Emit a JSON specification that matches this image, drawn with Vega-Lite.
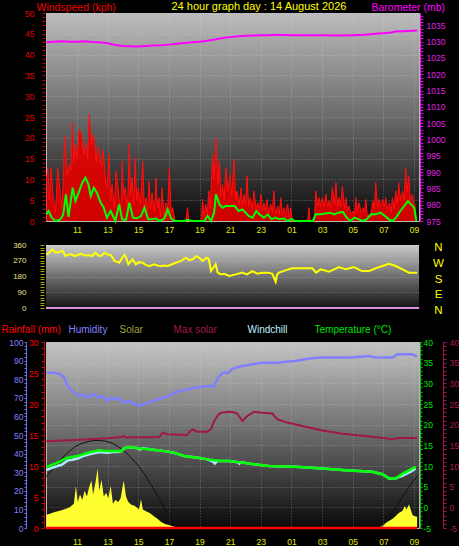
{
"$schema":"https://vega.github.io/schema/vega-lite/v6.json",
"background":"black",
"padding":0,
"bounds":"flush",
"spacing":24,
"config":{"font":"Liberation Sans","axis":{"labelFont":"Liberation Sans","titleFont":"Liberation Sans","titleFontWeight":"normal"},"view":{"stroke":null}},
"datasets":{
"gust":[{"h":9.0,"g":9.6},{"h":9.1,"g":12.8},{"h":9.2,"g":5},{"h":9.3,"g":12.8},{"h":9.45,"g":6},{"h":9.6,"g":2},{"h":9.74,"g":12.8},{"h":9.9,"g":7.2},{"h":10.0,"g":3},{"h":10.1,"g":9},{"h":10.2,"g":20.4},{"h":10.35,"g":11},{"h":10.5,"g":13.6},{"h":10.6,"g":12},{"h":10.7,"g":23.6},{"h":10.8,"g":14},{"h":10.9,"g":18.4},{"h":11.0,"g":15},{"h":11.15,"g":22},{"h":11.3,"g":20.8},{"h":11.45,"g":16},{"h":11.6,"g":18.8},{"h":11.7,"g":15},{"h":11.8,"g":25.6},{"h":11.95,"g":18.4},{"h":12.1,"g":20.8},{"h":12.25,"g":14},{"h":12.35,"g":18},{"h":12.45,"g":16},{"h":12.6,"g":13},{"h":12.7,"g":17.2},{"h":12.85,"g":10.4},{"h":12.95,"g":8},{"h":13.1,"g":16},{"h":13.2,"g":5},{"h":13.3,"g":8.8},{"h":13.45,"g":3},{"h":13.55,"g":12},{"h":13.75,"g":5.6},{"h":13.85,"g":2},{"h":13.95,"g":14.4},{"h":14.05,"g":6},{"h":14.15,"g":8},{"h":14.3,"g":3},{"h":14.42,"g":18.4},{"h":14.5,"g":6},{"h":14.6,"g":10.4},{"h":14.7,"g":4},{"h":14.8,"g":15.2},{"h":14.9,"g":5},{"h":15.0,"g":8},{"h":15.15,"g":4},{"h":15.29,"g":14.4},{"h":15.4,"g":3},{"h":15.5,"g":5.6},{"h":15.6,"g":2},{"h":15.7,"g":9.6},{"h":15.8,"g":3},{"h":15.9,"g":6.8},{"h":16.05,"g":2},{"h":16.16,"g":10.4},{"h":16.25,"g":3},{"h":16.35,"g":5.6},{"h":16.45,"g":1},{"h":16.55,"g":8},{"h":16.7,"g":1},{"h":16.8,"g":4.4},{"h":16.9,"g":1},{"h":17.03,"g":12.8},{"h":17.15,"g":2},{"h":17.25,"g":3.2},{"h":17.4,"g":0},{"h":18.1,"g":0},{"h":18.22,"g":3.2},{"h":18.3,"g":0},{"h":19.1,"g":0},{"h":19.2,"g":5.2},{"h":19.3,"g":1},{"h":19.4,"g":4},{"h":19.5,"g":1.5},{"h":19.6,"g":7.2},{"h":19.7,"g":3},{"h":19.85,"g":16},{"h":19.95,"g":10},{"h":20.07,"g":20},{"h":20.2,"g":9},{"h":20.3,"g":14.4},{"h":20.4,"g":6},{"h":20.5,"g":8.8},{"h":20.6,"g":5},{"h":20.73,"g":12.8},{"h":20.85,"g":7.2},{"h":21.0,"g":11.2},{"h":21.1,"g":6},{"h":21.25,"g":14.8},{"h":21.35,"g":5},{"h":21.45,"g":7.2},{"h":21.6,"g":4},{"h":21.7,"g":8},{"h":21.8,"g":3.5},{"h":21.9,"g":6.4},{"h":22.0,"g":4},{"h":22.1,"g":10.8},{"h":22.2,"g":3.5},{"h":22.3,"g":5.6},{"h":22.45,"g":3},{"h":22.55,"g":7.2},{"h":22.7,"g":3},{"h":22.8,"g":4.4},{"h":22.9,"g":2.5},{"h":23.0,"g":6.4},{"h":23.1,"g":2.5},{"h":23.2,"g":4.4},{"h":23.3,"g":2.5},{"h":23.4,"g":5.2},{"h":23.5,"g":2},{"h":23.65,"g":4},{"h":23.75,"g":2},{"h":23.85,"g":7.2},{"h":23.95,"g":1.5},{"h":24.1,"g":3.6},{"h":24.2,"g":1.5},{"h":24.3,"g":5.6},{"h":24.4,"g":1.5},{"h":24.5,"g":3.2},{"h":24.6,"g":1.5},{"h":24.75,"g":4},{"h":24.85,"g":1},{"h":24.95,"g":3.2},{"h":25.05,"g":0},{"h":26.05,"g":0},{"h":26.14,"g":3.2},{"h":26.22,"g":0},{"h":26.5,"g":0},{"h":26.58,"g":7.2},{"h":26.7,"g":3.5},{"h":26.8,"g":5.6},{"h":26.9,"g":3.5},{"h":27.0,"g":5.6},{"h":27.1,"g":3.5},{"h":27.25,"g":6.4},{"h":27.35,"g":3.5},{"h":27.45,"g":4.8},{"h":27.55,"g":3},{"h":27.67,"g":8},{"h":27.8,"g":4},{"h":27.9,"g":9.2},{"h":28.0,"g":3.5},{"h":28.1,"g":5.6},{"h":28.2,"g":3.5},{"h":28.32,"g":8.4},{"h":28.45,"g":3},{"h":28.55,"g":5.6},{"h":28.65,"g":2.5},{"h":28.75,"g":3.6},{"h":28.9,"g":1.5},{"h":29.0,"g":2.4},{"h":29.1,"g":1.5},{"h":29.2,"g":5.6},{"h":29.3,"g":2.5},{"h":29.41,"g":4.4},{"h":29.55,"g":2},{"h":29.65,"g":3.2},{"h":29.75,"g":2},{"h":29.85,"g":5.2},{"h":29.95,"g":1},{"h":30.05,"g":1.6},{"h":30.15,"g":1},{"h":30.3,"g":4.8},{"h":30.4,"g":3},{"h":30.5,"g":9.2},{"h":30.6,"g":3.5},{"h":30.7,"g":5.2},{"h":30.8,"g":3.5},{"h":30.95,"g":5.2},{"h":31.05,"g":3.5},{"h":31.15,"g":5.6},{"h":31.25,"g":3},{"h":31.4,"g":4.4},{"h":31.5,"g":2},{"h":31.58,"g":5.6},{"h":31.7,"g":3},{"h":31.8,"g":7.2},{"h":31.9,"g":4},{"h":32.0,"g":9.2},{"h":32.1,"g":5},{"h":32.25,"g":7.2},{"h":32.35,"g":5},{"h":32.45,"g":12.8},{"h":32.55,"g":7},{"h":32.65,"g":10.8},{"h":32.75,"g":5},{"h":32.9,"g":6.4},{"h":33.0,"g":3},{"h":33.05,"g":4},{"h":33.15,"g":0}],
"avg":[{"h":9.0,"a":1.6},{"h":9.15,"a":2.4},{"h":9.35,"a":0.8},{"h":9.6,"a":0},{"h":9.9,"a":0.3},{"h":10.1,"a":1.5},{"h":10.28,"a":6.4},{"h":10.45,"a":1.0},{"h":10.72,"a":8.0},{"h":10.9,"a":4.8},{"h":11.15,"a":7.2},{"h":11.35,"a":9.2},{"h":11.55,"a":10.4},{"h":11.75,"a":8.8},{"h":11.9,"a":6.0},{"h":12.1,"a":8.0},{"h":12.3,"a":6.8},{"h":12.55,"a":4.4},{"h":12.75,"a":3.2},{"h":12.95,"a":0.8},{"h":13.2,"a":2.4},{"h":13.5,"a":0},{"h":13.75,"a":4.0},{"h":13.95,"a":0.4},{"h":14.2,"a":0.2},{"h":14.42,"a":4.4},{"h":14.65,"a":0.8},{"h":14.9,"a":0.6},{"h":15.18,"a":1.2},{"h":15.4,"a":3.2},{"h":15.65,"a":0.4},{"h":15.9,"a":0.4},{"h":16.16,"a":0.6},{"h":16.4,"a":0},{"h":16.7,"a":0.6},{"h":16.92,"a":2.8},{"h":17.15,"a":0.6},{"h":17.4,"a":0},{"h":18.0,"a":0},{"h":18.2,"a":0.3},{"h":18.5,"a":0},{"h":19.3,"a":0},{"h":19.53,"a":1.2},{"h":19.75,"a":0},{"h":19.95,"a":2.0},{"h":20.07,"a":6.4},{"h":20.3,"a":4},{"h":20.5,"a":3.2},{"h":20.7,"a":3.6},{"h":21.0,"a":3.6},{"h":21.3,"a":3.6},{"h":21.55,"a":2.4},{"h":21.8,"a":2.8},{"h":22.0,"a":2.0},{"h":22.2,"a":1.2},{"h":22.45,"a":0.8},{"h":22.7,"a":2.4},{"h":22.9,"a":1.6},{"h":23.2,"a":0.8},{"h":23.45,"a":1.6},{"h":23.7,"a":0.4},{"h":23.95,"a":0.8},{"h":24.2,"a":0.4},{"h":24.5,"a":0.6},{"h":24.75,"a":0},{"h":25.0,"a":0.5},{"h":25.2,"a":0},{"h":26.4,"a":0},{"h":26.58,"a":1.6},{"h":26.9,"a":1.6},{"h":27.2,"a":1.8},{"h":27.5,"a":2.0},{"h":27.8,"a":1.6},{"h":28.05,"a":2.0},{"h":28.35,"a":2.2},{"h":28.6,"a":0.8},{"h":28.85,"a":0},{"h":29.1,"a":0.8},{"h":29.4,"a":0.4},{"h":29.65,"a":0},{"h":29.9,"a":0.4},{"h":30.2,"a":1.6},{"h":30.5,"a":1.6},{"h":30.8,"a":2.0},{"h":31.1,"a":1.2},{"h":31.35,"a":0.4},{"h":31.6,"a":0},{"h":31.85,"a":1.0},{"h":32.1,"a":2.4},{"h":32.35,"a":3.6},{"h":32.6,"a":4.8},{"h":32.8,"a":4.0},{"h":33.0,"a":3.2},{"h":33.15,"a":0}],
"baro":[{"h":9.0,"p":1029.8},{"h":9.5,"p":1030.0},{"h":10.0,"p":1030.1},{"h":10.5,"p":1030.0},{"h":11.0,"p":1030.0},{"h":11.5,"p":1030.1},{"h":12.0,"p":1029.9},{"h":12.5,"p":1029.8},{"h":13.0,"p":1029.5},{"h":13.5,"p":1029.0},{"h":14.0,"p":1028.7},{"h":14.5,"p":1028.6},{"h":15.0,"p":1028.5},{"h":15.5,"p":1028.7},{"h":16.0,"p":1028.8},{"h":16.5,"p":1028.9},{"h":17.0,"p":1029.1},{"h":17.5,"p":1029.4},{"h":18.0,"p":1029.6},{"h":18.5,"p":1029.8},{"h":19.0,"p":1030.0},{"h":19.5,"p":1030.3},{"h":20.0,"p":1030.7},{"h":20.5,"p":1031.1},{"h":21.0,"p":1031.4},{"h":21.5,"p":1031.7},{"h":22.0,"p":1031.8},{"h":22.5,"p":1031.9},{"h":23.0,"p":1032.0},{"h":23.5,"p":1032.0},{"h":24.0,"p":1032.1},{"h":25.0,"p":1032.0},{"h":26.0,"p":1032.0},{"h":27.0,"p":1032.0},{"h":28.0,"p":1031.9},{"h":29.0,"p":1032.0},{"h":29.8,"p":1032.1},{"h":30.5,"p":1032.4},{"h":31.0,"p":1032.6},{"h":31.5,"p":1032.8},{"h":31.8,"p":1033.1},{"h":32.3,"p":1033.2},{"h":33.2,"p":1033.4}],
"dir":[{"h":9.0,"d":305},{"h":9.09,"d":310},{"h":9.25,"d":322},{"h":9.41,"d":335},{"h":9.6,"d":316},{"h":9.8,"d":320},{"h":10.07,"d":326},{"h":10.25,"d":297},{"h":10.45,"d":305},{"h":10.6,"d":307},{"h":10.85,"d":297},{"h":11.05,"d":303},{"h":11.26,"d":310},{"h":11.5,"d":300},{"h":11.75,"d":303},{"h":12.0,"d":297},{"h":12.2,"d":316},{"h":12.4,"d":300},{"h":12.57,"d":297},{"h":12.8,"d":316},{"h":13.0,"d":305},{"h":13.22,"d":303},{"h":13.45,"d":269},{"h":13.6,"d":265},{"h":13.76,"d":259},{"h":13.95,"d":287},{"h":14.1,"d":303},{"h":14.2,"d":290},{"h":14.35,"d":250},{"h":14.5,"d":265},{"h":14.63,"d":278},{"h":14.85,"d":250},{"h":15.05,"d":262},{"h":15.29,"d":259},{"h":15.5,"d":245},{"h":15.75,"d":240},{"h":16.05,"d":250},{"h":16.3,"d":242},{"h":16.5,"d":240},{"h":16.7,"d":243},{"h":16.92,"d":240},{"h":17.2,"d":250},{"h":17.5,"d":260},{"h":17.79,"d":269},{"h":18.1,"d":287},{"h":18.3,"d":275},{"h":18.55,"d":278},{"h":18.8,"d":297},{"h":19.0,"d":285},{"h":19.2,"d":269},{"h":19.45,"d":287},{"h":19.6,"d":280},{"h":19.75,"d":211},{"h":19.9,"d":230},{"h":20.05,"d":250},{"h":20.18,"d":202},{"h":20.4,"d":192},{"h":20.6,"d":195},{"h":20.94,"d":183},{"h":21.36,"d":192},{"h":21.79,"d":202},{"h":22.1,"d":192},{"h":22.44,"d":211},{"h":22.77,"d":196},{"h":23.1,"d":202},{"h":23.5,"d":202},{"h":23.75,"d":195},{"h":23.86,"d":173},{"h":23.97,"d":150},{"h":24.05,"d":190},{"h":24.18,"d":202},{"h":24.6,"d":215},{"h":25.05,"d":227},{"h":25.7,"d":227},{"h":26.36,"d":227},{"h":26.6,"d":202},{"h":26.9,"d":221},{"h":27.45,"d":208},{"h":28.1,"d":234},{"h":28.54,"d":221},{"h":29.08,"d":234},{"h":29.6,"d":211},{"h":30.06,"d":211},{"h":30.5,"d":227},{"h":30.93,"d":240},{"h":31.36,"d":253},{"h":31.8,"d":240},{"h":32.24,"d":221},{"h":32.67,"d":202},{"h":33.0,"d":202},{"h":33.2,"d":202}],
"hum":[{"h":9.0,"v":83.5},{"h":9.5,"v":83.5},{"h":9.95,"v":82.6},{"h":10.17,"v":80.8},{"h":10.35,"v":77},{"h":10.5,"v":75.4},{"h":10.7,"v":73.7},{"h":10.9,"v":72.5},{"h":11.15,"v":71},{"h":11.4,"v":71.9},{"h":11.6,"v":70},{"h":11.8,"v":71},{"h":12.13,"v":71.9},{"h":12.35,"v":70},{"h":12.55,"v":71},{"h":12.78,"v":70},{"h":13.0,"v":68.3},{"h":13.2,"v":70},{"h":13.43,"v":69.2},{"h":13.7,"v":70},{"h":13.9,"v":68.3},{"h":14.2,"v":67.4},{"h":14.45,"v":68.3},{"h":14.65,"v":67},{"h":14.85,"v":66.5},{"h":15.07,"v":65.6},{"h":15.3,"v":66.5},{"h":15.5,"v":67},{"h":15.72,"v":67.4},{"h":16.0,"v":68.5},{"h":16.3,"v":69.2},{"h":16.59,"v":70},{"h":17.0,"v":71},{"h":17.35,"v":72.7},{"h":17.9,"v":74},{"h":18.3,"v":74.6},{"h":18.66,"v":75.4},{"h":19.2,"v":76},{"h":19.6,"v":76.3},{"h":19.96,"v":76.3},{"h":20.1,"v":79},{"h":20.2,"v":80.8},{"h":20.4,"v":82.5},{"h":20.51,"v":83.5},{"h":20.92,"v":83.5},{"h":21.1,"v":85.5},{"h":21.36,"v":86.2},{"h":21.79,"v":87.1},{"h":22.1,"v":87.5},{"h":22.44,"v":88},{"h":22.8,"v":88.5},{"h":23.1,"v":88.9},{"h":24.18,"v":88.9},{"h":24.6,"v":89.4},{"h":25.27,"v":89.8},{"h":25.9,"v":90.7},{"h":26.3,"v":91.2},{"h":27.01,"v":91.6},{"h":28.54,"v":91.6},{"h":29.3,"v":92},{"h":30.06,"v":92.5},{"h":30.4,"v":91.8},{"h":31.0,"v":91.6},{"h":31.58,"v":91.6},{"h":31.9,"v":93.4},{"h":32.89,"v":93.4},{"h":33.1,"v":92.5},{"h":33.2,"v":92.5}],
"maxsolar":[{"h":9.0,"v":16.0},{"h":10.9,"v":16.3},{"h":13.0,"v":16.7},{"h":13.9,"v":17.0},{"h":14.0,"v":17.3},{"h":14.2,"v":16.9},{"h":16.37,"v":17.0},{"h":16.5,"v":17.6},{"h":16.6,"v":18.1},{"h":16.9,"v":17.7},{"h":18.2,"v":17.5},{"h":18.4,"v":18.5},{"h":18.55,"v":18.9},{"h":18.8,"v":18.3},{"h":19.53,"v":18.3},{"h":19.75,"v":19.0},{"h":19.96,"v":20.9},{"h":20.2,"v":22.3},{"h":20.4,"v":22.9},{"h":20.94,"v":23.1},{"h":21.36,"v":22.9},{"h":21.5,"v":22.5},{"h":21.79,"v":20.9},{"h":22.12,"v":22.1},{"h":22.55,"v":23.1},{"h":23.1,"v":22.9},{"h":23.75,"v":22.7},{"h":24.08,"v":21.3},{"h":24.73,"v":20.5},{"h":25.71,"v":19.7},{"h":27.01,"v":18.6},{"h":28.32,"v":17.8},{"h":29.62,"v":17.3},{"h":31.15,"v":16.7},{"h":31.5,"v":16.5},{"h":32.02,"v":16.8},{"h":33.2,"v":16.8}],
"temp":[{"h":9.0,"t":9.8},{"h":9.19,"t":10.0},{"h":9.73,"t":10.8},{"h":10.38,"t":12.0},{"h":11.04,"t":12.4},{"h":11.69,"t":13.2},{"h":12.45,"t":13.8},{"h":13.0,"t":13.6},{"h":13.65,"t":13.6},{"h":13.85,"t":13.5},{"h":14.1,"t":14.3},{"h":14.42,"t":14.6},{"h":14.96,"t":14.3},{"h":15.83,"t":14.0},{"h":16.7,"t":13.6},{"h":17.35,"t":13.2},{"h":18.0,"t":12.4},{"h":18.88,"t":12.0},{"h":19.53,"t":11.6},{"h":20.4,"t":11.2},{"h":20.94,"t":11.2},{"h":22.22,"t":10.6},{"h":23.53,"t":10.0},{"h":25.27,"t":9.8},{"h":27.01,"t":9.4},{"h":28.54,"t":9.0},{"h":30.28,"t":8.6},{"h":30.93,"t":8.0},{"h":31.36,"t":7.0},{"h":31.8,"t":7.0},{"h":32.23,"t":8.1},{"h":32.78,"t":9.2},{"h":33.1,"t":9.8}],
"chill":[{"h":9.0,"c":9.0},{"h":9.19,"c":9.3},{"h":9.73,"c":10.0},{"h":10.0,"c":10.3},{"h":10.38,"c":11.3},{"h":10.7,"c":11.5},{"h":11.04,"c":11.8},{"h":11.4,"c":12.4},{"h":11.69,"c":12.7},{"h":12.0,"c":13.0},{"h":12.45,"c":13.4},{"h":13.0,"c":13.2},{"h":13.3,"c":13.4},{"h":13.65,"c":13.4},{"h":13.85,"c":13.5},{"h":14.1,"c":14.3},{"h":14.42,"c":14.6},{"h":14.96,"c":14.3},{"h":15.1,"c":14.0},{"h":15.3,"c":14.3},{"h":15.83,"c":14.0},{"h":16.7,"c":13.6},{"h":17.35,"c":13.2},{"h":18.0,"c":12.4},{"h":18.88,"c":12.0},{"h":19.53,"c":11.6},{"h":19.9,"c":11.0},{"h":20.0,"c":10.6},{"h":20.15,"c":11.2},{"h":20.94,"c":11.2},{"h":21.5,"c":10.9},{"h":21.6,"c":10.6},{"h":21.7,"c":10.9},{"h":22.22,"c":10.6},{"h":23.53,"c":10.0},{"h":25.27,"c":9.8},{"h":27.01,"c":9.4},{"h":28.54,"c":9.0},{"h":30.28,"c":8.6},{"h":30.93,"c":8.0},{"h":31.36,"c":7.0},{"h":31.8,"c":7.0},{"h":32.0,"c":7.3},{"h":32.23,"c":7.6},{"h":32.78,"c":8.6},{"h":33.1,"c":9.4}],
"solar":[{"h":9.0,"s":7},{"h":9.5,"s":8.5},{"h":10.0,"s":9.5},{"h":10.5,"s":11},{"h":10.8,"s":13},{"h":10.93,"s":22.6},{"h":11.05,"s":14},{"h":11.2,"s":18},{"h":11.35,"s":15},{"h":11.5,"s":20},{"h":11.65,"s":17},{"h":11.8,"s":22},{"h":11.95,"s":25.6},{"h":12.05,"s":18},{"h":12.2,"s":24},{"h":12.35,"s":32},{"h":12.45,"s":20},{"h":12.6,"s":26},{"h":12.75,"s":17},{"h":12.9,"s":19},{"h":13.05,"s":16},{"h":13.2,"s":22.7},{"h":13.35,"s":13},{"h":13.5,"s":15},{"h":13.7,"s":14},{"h":13.85,"s":16},{"h":14.05,"s":25.6},{"h":14.2,"s":17},{"h":14.35,"s":14},{"h":14.55,"s":12.5},{"h":14.75,"s":12},{"h":14.9,"s":11},{"h":15.05,"s":10},{"h":15.18,"s":15.4},{"h":15.3,"s":10},{"h":15.5,"s":9},{"h":15.75,"s":8},{"h":16.0,"s":6.5},{"h":16.25,"s":5},{"h":16.5,"s":3.2},{"h":16.75,"s":2.2},{"h":17.0,"s":1.6},{"h":17.3,"s":0.8},{"h":17.6,"s":0.2},{"h":17.8,"s":0},{"h":30.7,"s":0},{"h":31.0,"s":2},{"h":31.36,"s":3.8},{"h":31.6,"s":5},{"h":31.8,"s":6.5},{"h":32.0,"s":8},{"h":32.23,"s":9.1},{"h":32.4,"s":11.8},{"h":32.5,"s":10},{"h":32.67,"s":12.7},{"h":32.78,"s":10},{"h":32.9,"s":7},{"h":33.0,"s":6.5},{"h":33.2,"s":6}],
"sun":[{"h":9.0,"v":27.5,"seg":"a"},{"h":9.5,"v":32.5,"seg":"a"},{"h":9.95,"v":36.9,"seg":"a"},{"h":10.4,"v":40.5,"seg":"a"},{"h":10.83,"v":43.5,"seg":"a"},{"h":11.25,"v":45.3,"seg":"a"},{"h":11.69,"v":46.4,"seg":"a"},{"h":12.0,"v":46.9,"seg":"a"},{"h":12.34,"v":47.1,"seg":"a"},{"h":12.8,"v":46.8,"seg":"a"},{"h":13.22,"v":45.9,"seg":"a"},{"h":13.65,"v":44,"seg":"a"},{"h":14.1,"v":41.4,"seg":"a"},{"h":14.5,"v":38,"seg":"a"},{"h":14.96,"v":33.9,"seg":"a"},{"h":15.4,"v":29,"seg":"a"},{"h":15.83,"v":23.5,"seg":"a"},{"h":16.25,"v":17.5,"seg":"a"},{"h":16.7,"v":10.9,"seg":"a"},{"h":17.0,"v":7,"seg":"a"},{"h":17.35,"v":2.8,"seg":"a"},{"h":17.6,"v":0.8,"seg":"a"},{"h":17.79,"v":0,"seg":"a"},{"h":30.82,"v":0,"seg":"b"},{"h":31.1,"v":2.5,"seg":"b"},{"h":31.4,"v":6,"seg":"b"},{"h":31.7,"v":9.8,"seg":"b"},{"h":32.02,"v":13.6,"seg":"b"},{"h":32.3,"v":17.5,"seg":"b"},{"h":32.6,"v":21.2,"seg":"b"},{"h":32.9,"v":24.6,"seg":"b"},{"h":33.21,"v":28,"seg":"b"}],
"rain":[{"h":9.0,"r":0},{"h":33.2,"r":0}],
"zero":[{"d":0}]
},
"vconcat":[
{"width":373,"height":208,
 "view":{"stroke":"#b8b8b8","fill":{"gradient":"linear","x1":0,"y1":0,"x2":0,"y2":1,"stops":[{"offset":0,"color":"#bcbcbc"},{"offset":0.5,"color":"#6a6a6a"},{"offset":1,"color":"#0a0a0a"}]}},
 "encoding":{"x":{"field":"h","type":"quantitative","scale":{"domain":[8.98,33.32],"nice":false,"zero":false},
   "axis":{"values":[11,13,15,17,19,21,23,25,27,29,31,33],"labelExpr":"(datum.value % 24 < 10 ? '0' : '') + (datum.value % 24)","labelColor":"#e6e600","labelFontSize":8.5,"labelPadding":4,"labelFlush":false,"labelOverlap":false,"ticks":false,"tickSize":0,"domain":false,"grid":true,"gridColor":"#e0e0e0","gridOpacity":0.35,"gridDash":[1,2],
   "title":"24 hour graph day : 14 August 2026","titleColor":"#ffff00","titleFontSize":11,"titleAngle":0,"titleAlign":"left","titleBaseline":"alphabetic","titleX":125,"titleY":-211.3}}},
 "layer":[
  {"data":{"name":"gust"},"mark":{"type":"area","color":"#e80000","opacity":0.9},
   "encoding":{"y":{"field":"g","type":"quantitative","scale":{"domain":[0,50],"nice":false},
    "axis":{"orient":"left","values":[0,1,2,3,4,5,6,7,8,9,10,11,12,13,14,15,16,17,18,19,20,21,22,23,24,25,26,27,28,29,30,31,32,33,34,35,36,37,38,39,40,41,42,43,44,45,46,47,48,49,50],
     "labelExpr":"datum.value % 5 === 0 ? '' + datum.value : ''","labelColor":"#e60000","labelFontSize":8.5,"labelPadding":8,"labelFlush":false,"labelOverlap":false,"offset":1,"tickSize":3,"tickColor":"#c80000","domain":false,
     "grid":true,"gridColor":"#e0e0e0","gridDash":[1,2],"gridOpacity":{"condition":{"test":"datum.value % 5 !== 0","value":0},"value":0.35},
     "title":"Windspeed (kph)","titleColor":"#f00000","titleFontSize":10.5,"titleAngle":0,"titleAlign":"left","titleBaseline":"alphabetic","titleX":-9,"titleY":-3}}}},
  {"data":{"name":"gust"},"mark":{"type":"line","color":"#ff1010","strokeWidth":1},
   "encoding":{"y":{"field":"g","type":"quantitative","scale":{"domain":[0,50],"nice":false},"axis":null}}},
  {"data":{"name":"avg"},"mark":{"type":"line","color":"#00ff00","strokeWidth":2},
   "encoding":{"y":{"field":"a","type":"quantitative","scale":{"domain":[0,50],"nice":false},"axis":null}}},
  {"data":{"name":"baro"},"mark":{"type":"line","color":"#ff00ff","strokeWidth":2},
   "encoding":{"y":{"field":"p","type":"quantitative","scale":{"domain":[975,1038.8],"nice":false,"zero":false},
    "axis":{"orient":"right","values":[975,976,977,978,979,980,981,982,983,984,985,986,987,988,989,990,991,992,993,994,995,996,997,998,999,1000,1001,1002,1003,1004,1005,1006,1007,1008,1009,1010,1011,1012,1013,1014,1015,1016,1017,1018,1019,1020,1021,1022,1023,1024,1025,1026,1027,1028,1029,1030,1031,1032,1033,1034,1035,1036,1037,1038],
     "labelExpr":"datum.value % 5 === 0 ? '' + datum.value : ''","labelColor":"#e020e0","labelFontSize":8.5,"labelPadding":3,"labelFlush":false,"labelOverlap":false,"offset":1,"tickSize":3,"tickColor":"#d000d0","domain":true,"domainColor":"#ff00ff","grid":false,
     "title":"Barometer (mb)","titleColor":"#ff00ff","titleFontSize":10.5,"titleAngle":0,"titleAlign":"left","titleBaseline":"alphabetic","titleX":-49,"titleY":-3}}}}
 ],
 "resolve":{"scale":{"y":"independent"}}
},
{"width":373,"height":73,
 "view":{"stroke":null,"fill":{"gradient":"linear","x1":0,"y1":0,"x2":0,"y2":1,"stops":[{"offset":0,"color":"#cacaca"},{"offset":0.862,"color":"#141414"},{"offset":0.863,"color":"#000000"},{"offset":1,"color":"#000000"}]}},
 "layer":[
  {"data":{"name":"dir"},"mark":{"type":"line","color":"#ffff00","strokeWidth":2},
   "encoding":{"x":{"field":"h","type":"quantitative","scale":{"domain":[8.98,33.32],"nice":false,"zero":false},"axis":null},
    "y":{"field":"d","type":"quantitative","scale":{"domain":[-57.1,360],"nice":false,"zero":false},
    "axis":{"orient":"left","values":[0,15,30,45,60,75,90,105,120,135,150,165,180,195,210,225,240,255,270,285,300,315,330,345,360],
     "labelExpr":"datum.value % 90 === 0 ? '' + datum.value : ''","labelColor":"#e8e090","labelFontSize":8,"labelPadding":14,"labelFlush":false,"labelOverlap":false,"offset":2,"tickSize":4,"tickColor":"#a8a800","domain":false,
     "grid":true,"gridColor":"#e0e0e0","gridDash":[1,2],"gridOpacity":{"condition":{"test":"datum.value % 90 !== 0","value":0},"value":0.35},"title":null}}}},
  {"data":{"name":"zero"},"mark":{"type":"rule","color":"#d890d8","strokeWidth":2},
   "encoding":{"y":{"field":"d","type":"quantitative","scale":{"domain":[-57.1,360],"nice":false,"zero":false},
    "axis":{"orient":"right","values":[0,90,180,270,360],"labelExpr":"datum.value == 360 ? 'N' : datum.value == 270 ? 'W' : datum.value == 180 ? 'S' : datum.value == 90 ? 'E' : 'N'",
     "labelColor":"#ffff00","labelFontSize":11.5,"labelAlign":"center","labelBaseline":"middle","labelPadding":19,"labelOffset":2.7,"labelFlush":false,"labelOverlap":false,"ticks":false,"tickSize":0,"domain":false,"grid":false,"title":null}}}}
 ],
 "resolve":{"scale":{"y":"independent"}}
},
{"width":373,"height":186,
 "view":{"stroke":"#b8b8b8","fill":{"gradient":"linear","x1":0,"y1":0,"x2":0,"y2":1,"stops":[{"offset":0,"color":"#c4c4c4"},{"offset":0.5,"color":"#6a6a6a"},{"offset":1,"color":"#080808"}]}},
 "encoding":{"x":{"field":"h","type":"quantitative","scale":{"domain":[8.98,33.32],"nice":false,"zero":false},
   "axis":{"values":[11,13,15,17,19,21,23,25,27,29,31,33],"labelExpr":"(datum.value % 24 < 10 ? '0' : '') + (datum.value % 24)","labelColor":"#e6e600","labelFontSize":8.5,"labelPadding":9,"labelFlush":false,"labelOverlap":false,"ticks":false,"tickSize":0,"domain":false,"grid":true,"gridColor":"#e0e0e0","gridOpacity":0.35,"gridDash":[1,2],"title":null}}},
 "layer":[
  {"data":{"name":"solar"},"mark":{"type":"area","color":"#ffff30","opacity":1},
   "encoding":{"y":{"field":"s","type":"quantitative","scale":{"domain":[0,100],"nice":false},
    "axis":{"orient":"left","labels":false,"ticks":false,"domain":false,"grid":false,"title":"Solar","titleColor":"#a0a038","titleFontSize":10,"titleAngle":0,"titleAlign":"left","titleBaseline":"alphabetic","titleX":73,"titleY":-9.5}}}},
  {"data":{"name":"sun"},"mark":{"type":"line","color":"#101010","strokeWidth":1},
   "encoding":{"detail":{"field":"seg"},"y":{"field":"v","type":"quantitative","scale":{"domain":[0,100],"nice":false},"axis":null}}},
  {"data":{"name":"hum"},"mark":{"type":"line","color":"#8080ff","strokeWidth":2.5},
   "encoding":{"y":{"field":"v","type":"quantitative","scale":{"domain":[0,100],"nice":false},
    "axis":{"orient":"left","values":[0,2,4,6,8,10,12,14,16,18,20,22,24,26,28,30,32,34,36,38,40,42,44,46,48,50,52,54,56,58,60,62,64,66,68,70,72,74,76,78,80,82,84,86,88,90,92,94,96,98,100],
     "labelExpr":"datum.value % 10 === 0 ? '' + datum.value : ''","labelColor":"#8080ff","labelFontSize":8.5,"labelPadding":1,"labelFlush":false,"labelOverlap":false,"offset":20,"tickSize":2,"tickColor":"#7070ff","domain":true,"domainColor":"#7070ff","grid":false,
     "title":"Humidity","titleColor":"#8080ff","titleFontSize":10,"titleAngle":0,"titleAlign":"left","titleBaseline":"alphabetic","titleX":42,"titleY":-9.5}}}},
  {"data":{"name":"maxsolar"},"mark":{"type":"line","color":"#a01848","strokeWidth":2},
   "encoding":{"y":{"field":"v","type":"quantitative","scale":{"domain":[-5,40],"nice":false,"zero":false},
    "axis":{"orient":"right","values":[-5,-4,-3,-2,-1,0,1,2,3,4,5,6,7,8,9,10,11,12,13,14,15,16,17,18,19,20,21,22,23,24,25,26,27,28,29,30,31,32,33,34,35,36,37,38,39,40],
     "labelExpr":"datum.value % 5 === 0 ? '' + datum.value : ''","labelColor":"#b01850","labelFontSize":8.5,"labelPadding":3,"labelFlush":false,"labelOverlap":false,"offset":24,"tickSize":3,"tickColor":"#a01848","domain":true,"domainColor":"#a01848","grid":false,
     "title":"Max solar","titleColor":"#a01848","titleFontSize":10,"titleAngle":0,"titleAlign":"left","titleBaseline":"alphabetic","titleX":-270,"titleY":-9.5}}}},
  {"data":{"name":"chill"},"mark":{"type":"line","color":"#a8ecff","strokeWidth":2.5},
   "encoding":{"y":{"field":"c","type":"quantitative","scale":{"domain":[-5,40],"nice":false,"zero":false},
    "axis":{"orient":"right","labels":false,"ticks":false,"domain":false,"grid":false,"title":"Windchill","titleColor":"#c0f0ff","titleFontSize":10,"titleAngle":0,"titleAlign":"left","titleBaseline":"alphabetic","titleX":-172,"titleY":-9.5}}}},
  {"data":{"name":"temp"},"mark":{"type":"line","color":"#00ff00","strokeWidth":2.5},
   "encoding":{"y":{"field":"t","type":"quantitative","scale":{"domain":[-5,40],"nice":false,"zero":false},
    "axis":{"orient":"right","values":[-5,-4,-3,-2,-1,0,1,2,3,4,5,6,7,8,9,10,11,12,13,14,15,16,17,18,19,20,21,22,23,24,25,26,27,28,29,30,31,32,33,34,35,36,37,38,39,40],
     "labelExpr":"datum.value % 5 === 0 ? '' + datum.value : ''","labelColor":"#00e000","labelFontSize":8.5,"labelPadding":1,"labelFlush":false,"labelOverlap":false,"offset":1,"tickSize":2,"tickColor":"#00c000","domain":true,"domainColor":"#00c000",
     "grid":true,"gridColor":"#e0e0e0","gridDash":[1,2],"gridOpacity":{"condition":{"test":"datum.value % 5 !== 0","value":0},"value":0.35},
     "title":"Temperature (°C)","titleColor":"#00e000","titleFontSize":10,"titleAngle":0,"titleAlign":"left","titleBaseline":"alphabetic","titleX":-106,"titleY":-9.5}}}},
  {"data":{"name":"rain"},"mark":{"type":"line","color":"#ff0000","strokeWidth":2.5},
   "encoding":{"y":{"field":"r","type":"quantitative","scale":{"domain":[0,30],"nice":false},
    "axis":{"orient":"left","values":[0,1,2,3,4,5,6,7,8,9,10,11,12,13,14,15,16,17,18,19,20,21,22,23,24,25,26,27,28,29,30],
     "labelExpr":"datum.value % 5 === 0 ? '' + datum.value : ''","labelColor":"#ff0000","labelFontSize":8.5,"labelPadding":3,"labelFlush":false,"labelOverlap":false,"offset":2,"tickSize":3,"tickColor":"#e00000","domain":true,"domainColor":"#c00000","grid":false,
     "title":"Rainfall (mm)","titleColor":"#ff0000","titleFontSize":10,"titleAngle":0,"titleAlign":"left","titleBaseline":"alphabetic","titleX":-43,"titleY":-9.5}}}}
 ],
 "resolve":{"scale":{"y":"independent"}}
}
]
}
